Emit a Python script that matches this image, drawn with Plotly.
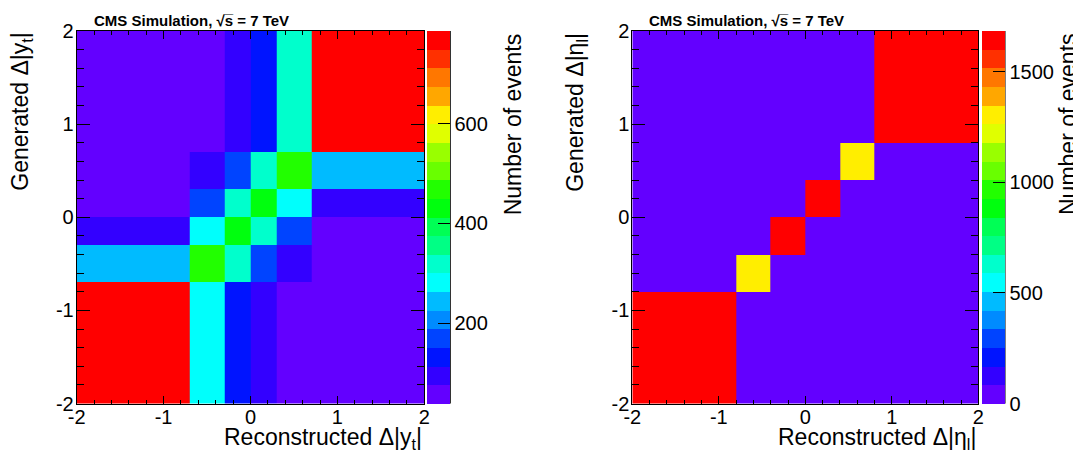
import colorsys
import plotly.graph_objects as go

# ---------------- data ----------------
# Left panel: top-quark rapidity difference
x_edges_top = [-2, -0.7, -0.3, 0, 0.3, 0.7, 2]
y_edges_top = [-2, -0.7, -0.3, 0, 0.3, 0.7, 2]
# rows = generated bins (bottom -> top), columns = reconstructed bins (left -> right)
z_top = [
    [787, 281, 133, 92, 58, 39],
    [244, 468, 322, 171, 96, 47],
    [98, 284, 431, 318, 168, 52],
    [50, 173, 316, 428, 286, 101],
    [44, 94, 169, 325, 472, 247],
    [41, 61, 90, 128, 321, 781],
]
zmin_top, zmax_top = 39, 787
cbar_ticks_top = [200, 400, 600]

# Right panel: lepton pseudorapidity difference
x_edges_lep = [-2, -0.8, -0.4, 0, 0.4, 0.8, 2]
y_edges_lep = [-2, -0.8, -0.4, 0, 0.4, 0.8, 2]
z_lep = [
    [1687, 41, 9, 4, 2, 5],
    [38, 1312, 55, 8, 3, 1],
    [7, 62, 1645, 70, 6, 0],
    [3, 5, 68, 1651, 58, 6],
    [1, 4, 9, 57, 1298, 40],
    [4, 2, 6, 10, 42, 1679],
]
zmin_lep, zmax_lep = 0, 1687
cbar_ticks_lep = [0, 500, 1000, 1500]

axis_ticks = [-2, -1, 0, 1, 2]
axis_ticktext = ["-2", "-1", "0", "1", "2"]

title_text = "<b>CMS Simulation, √s\u0305 = 7 TeV</b>"
xtitle_top = "Reconstructed Δ|y<sub>t</sub>|"
ytitle_top = "Generated Δ|y<sub>t</sub>|"
xtitle_lep = "Reconstructed Δ|η<sub>l</sub>|"
ytitle_lep = "Generated Δ|η<sub>l</sub>|"
ztitle = "Number of events"

# ---------------- style ----------------
SCREEN_W, SCREEN_H = 1081, 454
OFF = 8                      # page body offset
W, H = SCREEN_W - OFF, SCREEN_H - OFF
ML, MR, MT, MB = 10, 10, 10, 10
FONT = "Liberation Sans"
TICK_SIZE = 20
TITLE_SIZE = 23


def px(x):
    # screen pixel -> paper fraction
    return (x - OFF - ML) / (W - ML - MR)


def py(y):
    return (H - MB - (y - OFF)) / (H - MT - MB)


def root_palette(n=20):
    cols = []
    for j in range(n):
        idx = int((j + 0.99) * 50 / n)
        hue = 280 - (idx + 1) * 5.6
        r, g, b = colorsys.hls_to_rgb(hue / 360.0, 0.5, 1.0)
        cols.append(f"rgb({round(r*255)},{round(g*255)},{round(b*255)})")
    scale = []
    for j, c in enumerate(cols):
        scale.append([j / n, c])
        scale.append([(j + 1) / n, c])
    return scale


PAL = root_palette(20)

TOP, BOT = 31, 403.5
panels = [
    dict(x0=76.7, x1=424.3, cb0=427.0, cb1=450.3),
    dict(x0=632.3, x1=978.3, cb0=981.7, cb1=1005.0),
]

fig = go.Figure()


def cbar(p, ticks):
    return dict(
        x=px(p["cb0"]), xanchor="left",
        y=py(BOT), yanchor="bottom",
        len=(BOT - TOP) / (H - MT - MB), lenmode="fraction",
        thickness=p["cb1"] - p["cb0"], thicknessmode="pixels",
        outlinewidth=0, xpad=0, ypad=0,
        tickmode="array", tickvals=ticks,
        ticks="inside", ticklen=12, tickcolor="black", tickwidth=1,
        tickfont=dict(family=FONT, size=TICK_SIZE, color="black"),
    )


fig.add_trace(go.Heatmap(
    x=x_edges_top, y=y_edges_top, z=z_top,
    zmin=zmin_top, zmax=zmax_top, colorscale=PAL,
    colorbar=cbar(panels[0], cbar_ticks_top),
    xaxis="x", yaxis="y", hoverinfo="skip",
))
fig.add_trace(go.Heatmap(
    x=x_edges_lep, y=y_edges_lep, z=z_lep,
    zmin=zmin_lep, zmax=zmax_lep, colorscale=PAL,
    colorbar=cbar(panels[1], cbar_ticks_lep),
    xaxis="x2", yaxis="y2", hoverinfo="skip",
))


def xax(p, anchor):
    return dict(
        domain=[px(p["x0"]), px(p["x1"])], anchor=anchor, range=[-2, 2],
        tickmode="array", tickvals=axis_ticks, ticktext=axis_ticktext,
        ticks="inside", ticklen=8, tickcolor="black", tickwidth=1,
        minor=dict(dtick=0.2, tick0=0, ticks="inside", ticklen=4, tickcolor="black", showgrid=False),
        showline=True, linecolor="black", linewidth=1, mirror="ticks",
        showgrid=False, zeroline=False, automargin=False,
        ticklabelstandoff=-5,
        tickfont=dict(family=FONT, size=TICK_SIZE, color="black"),
    )


def yax(anchor):
    return dict(
        domain=[py(BOT), py(TOP)], anchor=anchor, range=[-2, 2],
        tickmode="array", tickvals=axis_ticks, ticktext=axis_ticktext,
        ticks="inside", ticklen=13, tickcolor="black", tickwidth=1,
        minor=dict(dtick=0.2, tick0=0, ticks="inside", ticklen=7, tickcolor="black", showgrid=False),
        showline=True, linecolor="black", linewidth=1, mirror="ticks",
        showgrid=False, zeroline=False, automargin=False,
        ticklabelstandoff=-2,
        tickfont=dict(family=FONT, size=TICK_SIZE, color="black"),
    )


shapes = []
annotations = []
for i, (p, xt, yt) in enumerate([(panels[0], xtitle_top, ytitle_top),
                                 (panels[1], xtitle_lep, ytitle_lep)]):
    shapes.append(dict(type="line", xref="paper", yref="paper",
                       x0=px(p["cb1"]), x1=px(p["cb1"]), y0=py(BOT), y1=py(TOP),
                       line=dict(color="black", width=1)))
    annotations.append(dict(text=title_text, xref="paper", yref="paper",
                            x=px(p["x0"] + 15), y=py(21), xanchor="left", yanchor="middle",
                            showarrow=False, font=dict(family=FONT, size=15, color="black")))
    annotations.append(dict(text=xt, xref="paper", yref="paper",
                            x=px(p["x1"]), y=py(438), xanchor="right", yanchor="middle",
                            showarrow=False, font=dict(family=FONT, size=TITLE_SIZE, color="black")))
    annotations.append(dict(text=yt, xref="paper", yref="paper",
                            x=px(p["x0"] - 56), y=py(TOP), xanchor="center", yanchor="top",
                            textangle=-90,
                            showarrow=False, font=dict(family=FONT, size=TITLE_SIZE, color="black")))
    annotations.append(dict(text=ztitle, xref="paper", yref="paper",
                            x=px(p["cb1"] + 63), y=py(TOP), xanchor="center", yanchor="top",
                            textangle=-90,
                            showarrow=False, font=dict(family=FONT, size=TITLE_SIZE, color="black")))

fig.update_layout(
    width=W, height=H,
    margin=dict(l=ML, r=MR, t=MT, b=MB, autoexpand=False),
    paper_bgcolor="white", plot_bgcolor="white",
    xaxis=xax(panels[0], "y"), yaxis=yax("x"),
    xaxis2=xax(panels[1], "y2"), yaxis2=yax("x2"),
    shapes=shapes, annotations=annotations,
    showlegend=False,
    font=dict(family=FONT, color="black"),
)

fig.write_html("out.html")
